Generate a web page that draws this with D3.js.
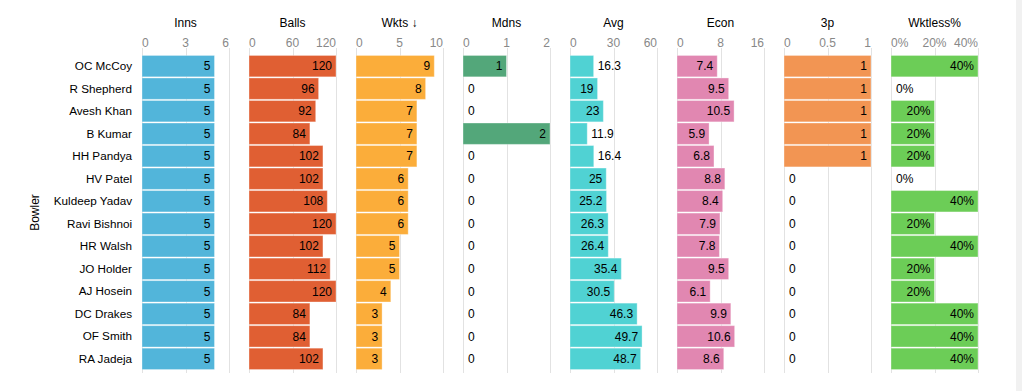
<!DOCTYPE html>
<html>
<head>
<meta charset="utf-8">
<script src="https://cdn.jsdelivr.net/npm/d3@7"></script>
<style>
body { margin: 0; background: #fff; }
svg { display: block; font-family: "Liberation Sans", Arial, sans-serif; }
.grid line { stroke: #e2e2e2; stroke-width: 1; }
.tick-lbl { fill: #888; font-size: 12px; }
.ttl { fill: #000; font-size: 12px; }
.val { fill: #000; font-size: 12px; }
.row-lbl { fill: #000; font-size: 11.7px; }
</style>
</head>
<body>
<div class="wrap"></div>
<script>
const bowlers = ['OC McCoy', 'R Shepherd', 'Avesh Khan', 'B Kumar', 'HH Pandya', 'HV Patel', 'Kuldeep Yadav',
  'Ravi Bishnoi', 'HR Walsh', 'JO Holder', 'AJ Hosein', 'DC Drakes', 'OF Smith', 'RA Jadeja']

const inns = [5, 5, 5, 5, 5, 5, 5, 5, 5, 5, 5, 5, 5, 5]
const balls = [120, 96, 92, 84, 102, 102, 108, 120, 102, 112, 120, 84, 84, 102]
const wkts = [9, 8, 7, 7, 7, 6, 6, 6, 5, 5, 4, 3, 3, 3]
const mdns = [1, 0, 0, 2, 0, 0, 0, 0, 0, 0, 0, 0, 0, 0]
const avg = [16.3, 19, 23, 11.9, 16.4, 25, 25.2, 26.3, 26.4, 35.4, 30.5, 46.3, 49.7, 48.7]
const econ = [7.4, 9.5, 10.5, 5.9, 6.8, 8.8, 8.4, 7.9, 7.8, 9.5, 6.1, 9.9, 10.6, 8.6]
const threeP = [1, 1, 1, 1, 1, 0, 0, 0, 0, 0, 0, 0, 0, 0]
const wktless = [0.4, 0, 0.2, 0.2, 0.2, 0, 0.4, 0.2, 0.4, 0.2, 0.2, 0.4, 0.4, 0.4]

const innsTicks = [0, 3, 6]
const ballsTicks = [0, 60, 120]
const wktsTicks = [0, 5, 10]
const mdnsTicks = [0, 1, 2]
const avgTicks = [0, 30, 60]
const econTicks = [0, 8, 16]
const threePTicks = [0, 0.5, 1]
const wktlessTicks = [0, 0.2, 0.4]

const pct = d3.format('.0%')
const plain = d => String(d)

const panels = [
  {title: 'Inns', values: inns, ticks: innsTicks, color: '#52b5da', fmt: plain},
  {title: 'Balls', values: balls, ticks: ballsTicks, color: '#e05f33', fmt: plain},
  {title: 'Wkts \u2193', values: wkts, ticks: wktsTicks, color: '#fbad3a', fmt: plain},
  {title: 'Mdns', values: mdns, ticks: mdnsTicks, color: '#53a77a', fmt: plain},
  {title: 'Avg', values: avg, ticks: avgTicks, color: '#50d2d3', fmt: plain},
  {title: 'Econ', values: econ, ticks: econTicks, color: '#e187b1', fmt: plain},
  {title: '3p', values: threeP, ticks: threePTicks, color: '#f29553', fmt: plain},
  {title: 'Wktless%', values: wktless, ticks: wktlessTicks, color: '#6ccd57', fmt: pct}
]

const width = 1022, height = 391
const x0 = 142, panelW = 87, panelStep = 107

let svg = d3.select('.wrap').append('svg')
.attr('width', width)
.attr('height', height)

// scrollbar strip at the right edge
svg.append('rect')
.attr('x', 1016).attr('y', 0)
.attr('width', 6).attr('height', height)
.attr('fill', '#f1f1f1')

let y = d3.scaleBand()
.domain(bowlers)
.range([55, 370])
.paddingInner(0.05)
.paddingOuter(0.02)

svg.append('g').selectAll('text')
.data(bowlers)
.enter()
.append('text')
.attr('class', 'row-lbl')
.attr('x', 132)
.attr('y', d => y(d) + y.bandwidth() / 2)
.attr('dy', '0.35em')
.attr('text-anchor', 'end')
.text(d => d)

svg.append('text')
.attr('class', 'ttl')
.attr('transform', 'translate(39,' + (y.range()[0] + y.range()[1]) / 2 + ') rotate(-90)')
.attr('text-anchor', 'middle')
.text('Bowler')

panels.forEach((p, i) => {

  let left = x0 + i * panelStep
  let x = d3.scaleLinear()
  .domain([p.ticks[0], p.ticks[p.ticks.length - 1]])
  .range([left, left + panelW])

  let g = svg.append('g')

  g.append('g').attr('class', 'grid').selectAll('line')
  .data(p.ticks)
  .enter()
  .append('line')
  .attr('x1', d => Math.round(x(d)) + 0.5)
  .attr('x2', d => Math.round(x(d)) + 0.5)
  .attr('y1', 48)
  .attr('y2', 373)

  g.selectAll('.tick-lbl')
  .data(p.ticks)
  .enter()
  .append('text')
  .attr('class', 'tick-lbl')
  .attr('x', d => x(d))
  .attr('y', 47)
  .attr('text-anchor', (d, k) => k === 0 ? 'start' : (k === p.ticks.length - 1 ? 'end' : 'middle'))
  .text(d => p.fmt(d))

  g.append('text')
  .attr('class', 'ttl')
  .attr('x', left + panelW / 2)
  .attr('y', 27)
  .attr('text-anchor', 'middle')
  .text(p.title)

  let rows = bowlers.map((name, k) => ({name, v: p.values[k]}))

  g.append('g').selectAll('rect')
  .data(rows.filter(d => d.v > 0))
  .enter()
  .append('rect')
  .attr('x', x(0))
  .attr('y', d => y(d.name))
  .attr('width', d => x(d.v) - x(0))
  .attr('height', y.bandwidth())
  .attr('fill', p.color)
  .attr('stroke', 'rgba(255,255,255,0.35)')
  .attr('stroke-width', 1)

  let labels = g.append('g').selectAll('text')
  .data(rows)
  .enter()
  .append('text')
  .attr('class', 'val')
  .attr('y', d => y(d.name) + y.bandwidth() / 2)
  .attr('dy', '0.35em')
  .text(d => p.fmt(d.v))

  // inside the bar when the text fits, else just past its end
  labels.each(function(d) {
    let tw = this.getComputedTextLength()
    let barW = x(d.v) - x(0)
    let el = d3.select(this)
    if (tw + 8 <= barW) {
      el.attr('x', x(d.v) - 4).attr('text-anchor', 'end')
    } else if (d.v === 0) {
      el.attr('x', x(0) + 5).attr('text-anchor', 'start')
    } else {
      el.attr('x', x(d.v) + 4).attr('text-anchor', 'start')
    }
  })
})
</script>
</body>
</html>
